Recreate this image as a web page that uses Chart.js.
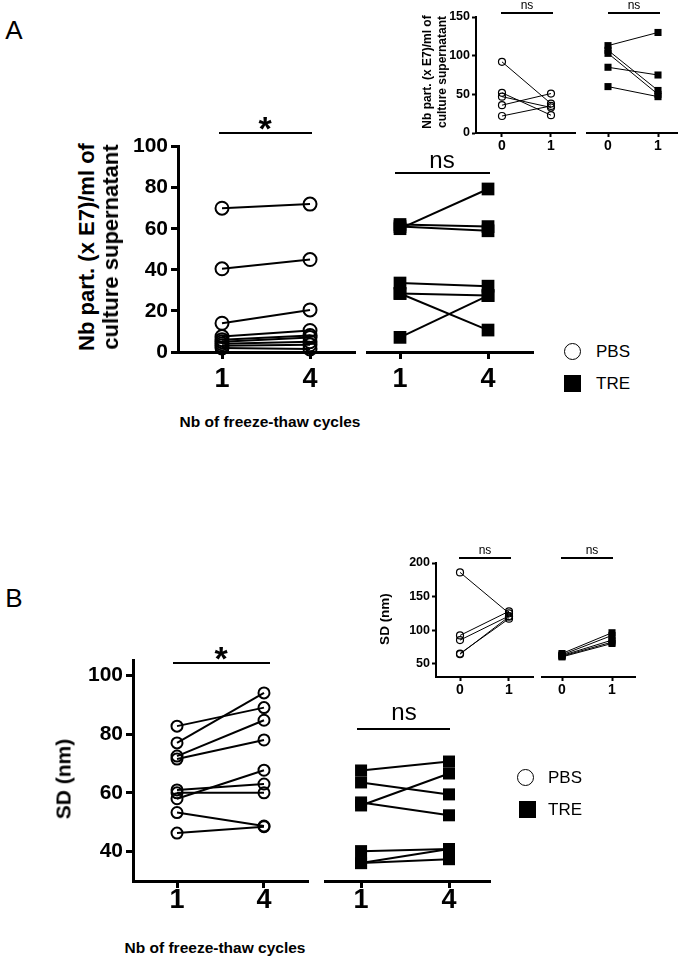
<!DOCTYPE html>
<html><head><meta charset="utf-8">
<script src="https://cdn.jsdelivr.net/npm/chart.js@4.4.1/dist/chart.umd.min.js"></script>
<style>
body{margin:0;background:#fff;}
#page{position:relative;width:685px;height:962px;overflow:hidden;font-family:"Liberation Sans",Arial,sans-serif;color:#000;}
#page canvas{position:absolute;}
.t{position:absolute;white-space:nowrap;line-height:1;}
.bar{position:absolute;background:#000;}
</style></head><body><div id="page"></div>
<script>
const F = '"Liberation Sans", Arial, sans-serif';
const cycles = ['1', '4'];
const insetCycles = ['0', '1'];

// panel A: particle counts
const aTicks = [0, 20, 40, 60, 80, 100];
const aPbs1 = [70, 40.5, 14, 7.5, 6, 5, 4, 3, 2];
const aPbs4 = [72, 45, 20.5, 10.5, 8, 7, 5, 3.5, 1.5];
const aTre1 = [59, 61, 60, 33, 28, 28, 7];
const aTre4 = [78, 60, 58, 31.5, 27, 10.5, 27];
const aInsetTicks = [0, 50, 100, 150];
const aInsPbs0 = [92, 52, 47, 36, 22];
const aInsPbs1 = [38, 23, 33, 51, 35];
const aInsTre0 = [113, 107, 103, 85, 60];
const aInsTre1 = [130, 55, 50, 75, 47];

// panel B: SD
const bTicks = [40, 60, 80, 100];
const bPbs1 = [82.7, 77, 72.5, 71.5, 61, 60, 58, 53.3, 46.3];
const bPbs4 = [89, 94, 84.7, 78, 63, 60, 67.7, 48.7, 48.5];
const bTre1 = [67, 63, 56.3, 55.3, 40, 36, 36];
const bTre4 = [70, 59, 52, 66, 40.7, 40.7, 37.3];
const bInsetTicks = [50, 100, 150, 200];
const bInsPbs0 = [186, 92, 85, 65, 64];
const bInsPbs1 = [125, 128, 121, 117, 120];
const bInsTre0 = [65, 63, 62, 60, 61];
const bInsTre1 = [96, 92, 85, 80, 82];

const page = document.getElementById('page');

const mainA = {line: 2, circle: 6.5, ring: 2, rect: 9, axis: 3, tick: 7, tickW: 3, xFont: 27, yFont: 21, xPad: 4, yPad: 3, yW: 60, xH: 45};
const mainB = {line: 2, circle: 5.5, ring: 2, rect: 8.5, axis: 3, tick: 7, tickW: 3, xFont: 27, yFont: 21, xPad: -4, yPad: 3, yW: 60, xH: 45};
const inset = {line: 1, circle: 3.5, ring: 1.2, rect: 5, axis: 2, tick: 4, tickW: 2, xFont: 14, yFont: 12.5, xPad: 1, yPad: 2, yW: 40, xH: 25};

function subplot(o) {
  const st = o.style;
  const yW = o.showY ? st.yW : 0;
  const padL = o.showY ? 0 : 12;
  const padT = 12, padR = 12, xH = st.xH;
  const w = (o.x1 - o.x0) + yW + padL + padR;
  const h = (o.y1 - o.y0) + padT + xH;
  const cv = document.createElement('canvas');
  cv.width = w; cv.height = h;
  cv.style.left = (o.x0 - yW - padL) + 'px';
  cv.style.top = (o.y0 - padT) + 'px';
  cv.style.width = w + 'px'; cv.style.height = h + 'px';
  page.appendChild(cv);
  const isRect = o.marker === 'rect';
  const datasets = o.first.map((v, i) => ({
    data: [{x: 0, y: v}, {x: 1, y: o.second[i]}],
    showLine: true,
    borderColor: '#000',
    borderWidth: st.line,
    pointStyle: o.marker,
    pointRadius: isRect ? st.rect : st.circle,
    pointBorderWidth: isRect ? 0 : st.ring,
    pointBorderColor: '#000',
    pointBackgroundColor: isRect ? '#000' : 'rgba(0,0,0,0)',
    clip: false
  }));
  const grid = {drawOnChartArea: false, drawTicks: true, tickLength: st.tick, tickWidth: st.tickW, tickColor: '#000'};
  const border = {display: true, color: '#000', width: st.axis};
  new Chart(cv, {
    type: 'scatter',
    data: {datasets},
    options: {
      responsive: false, animation: false, devicePixelRatio: 1,
      layout: {padding: {left: padL, top: padT, right: padR, bottom: 0}},
      plugins: {legend: {display: false}, tooltip: {enabled: false}},
      scales: {
        x: {
          type: 'linear', min: o.xmin, max: o.xmax,
          afterBuildTicks: s => { s.ticks = [{value: 0}, {value: 1}]; },
          afterFit: s => { s.height = xH; },
          grid, border,
          ticks: {color: '#000', padding: st.xPad, maxRotation: 0, autoSkip: false,
            font: {family: F, size: st.xFont, weight: 'bold'}, callback: v => o.labels[v]}
        },
        y: {
          display: o.showY, min: o.ymin, max: o.ymax,
          afterBuildTicks: s => { s.ticks = o.yTicks.map(v => ({value: v})); },
          afterFit: s => { s.width = yW; },
          grid, border,
          ticks: {color: '#000', padding: st.yPad, font: {family: F, size: st.yFont, weight: 'bold'}}
        }
      }
    }
  });
}

// panel A
subplot({style: mainA, showY: true, x0: 178, x1: 355, y0: 143, y1: 352, xmin: -0.5, xmax: 1.511, ymin: 0, ymax: 100,
  yTicks: aTicks, labels: cycles, first: aPbs1, second: aPbs4, marker: 'circle'});
subplot({style: mainA, showY: false, x0: 367, x1: 533, y0: 143, y1: 352, xmin: -0.375, xmax: 1.511, ymin: 0, ymax: 100,
  yTicks: aTicks, labels: cycles, first: aTre1, second: aTre4, marker: 'rect'});
subplot({style: inset, showY: true, x0: 476, x1: 575, y0: 17, y1: 133, xmin: -0.53, xmax: 1.49, ymin: 0, ymax: 150,
  yTicks: aInsetTicks, labels: insetCycles, first: aInsPbs0, second: aInsPbs1, marker: 'circle'});
subplot({style: inset, showY: false, x0: 587, x1: 677, y0: 17, y1: 133, xmin: -0.42, xmax: 1.38, ymin: 0, ymax: 150,
  yTicks: aInsetTicks, labels: insetCycles, first: aInsTre0, second: aInsTre1, marker: 'rect'});

// panel B
subplot({style: mainB, showY: true, x0: 133, x1: 308, y0: 657, y1: 881, xmin: -0.506, xmax: 1.506, ymin: 30, ymax: 105,
  yTicks: bTicks, labels: cycles, first: bPbs1, second: bPbs4, marker: 'circle'});
subplot({style: mainB, showY: false, x0: 325, x1: 490, y0: 657, y1: 881, xmin: -0.41, xmax: 1.466, ymin: 30, ymax: 105,
  yTicks: bTicks, labels: cycles, first: bTre1, second: bTre4, marker: 'rect'});
subplot({style: inset, showY: true, x0: 436, x1: 533, y0: 563, y1: 677, xmin: -0.49, xmax: 1.49, ymin: 30, ymax: 200,
  yTicks: bInsetTicks, labels: insetCycles, first: bInsPbs0, second: bInsPbs1, marker: 'circle'});
subplot({style: inset, showY: false, x0: 542, x1: 635, y0: 563, y1: 677, xmin: -0.4, xmax: 1.46, ymin: 30, ymax: 200,
  yTicks: bInsetTicks, labels: insetCycles, first: bInsTre0, second: bInsTre1, marker: 'rect'});

// annotations
function txt(s, x, y, size, bold, mode) {
  const d = document.createElement('div');
  d.className = 't';
  d.textContent = s;
  d.style.left = x + 'px'; d.style.top = y + 'px';
  d.style.fontSize = size + 'px';
  if (bold) d.style.fontWeight = 'bold';
  if (mode === 'rot') d.style.transform = 'translate(-50%,-50%) rotate(-90deg)';
  else if (mode === 'left') d.style.transform = 'translate(0,-50%)';
  else d.style.transform = 'translate(-50%,-50%)';
  page.appendChild(d);
}
function bar(x0, x1, y, th) {
  const d = document.createElement('div');
  d.className = 'bar';
  d.style.left = x0 + 'px'; d.style.width = (x1 - x0) + 'px';
  d.style.top = (y - th / 2) + 'px'; d.style.height = th + 'px';
  page.appendChild(d);
}
function marker(kind, x, y, s) {
  const d = document.createElement('div');
  d.style.position = 'absolute';
  d.style.boxSizing = 'border-box';
  d.style.left = (x - s / 2) + 'px'; d.style.top = (y - s / 2) + 'px';
  d.style.width = s + 'px'; d.style.height = s + 'px';
  if (kind === 'circle') { d.style.border = '1.3px solid #000'; d.style.borderRadius = '50%'; }
  else d.style.background = '#000';
  page.appendChild(d);
}

// A
txt('A', 14, 30, 26, false);
txt('Nb part. (x E7)/ml of', 87, 247, 22, true, 'rot');
txt('culture supernatant', 111, 247, 22, true, 'rot');
txt('*', 265, 128, 34, true);
bar(219, 312, 133, 2.5);
txt('ns', 442, 160, 24, false);
bar(395, 490, 173, 2.5);
txt('Nb of freeze-thaw cycles', 270, 422, 15.5, true);
marker('circle', 572, 351, 17);
txt('PBS', 596, 351, 17, false, 'left');
marker('rect', 572, 383, 17);
txt('TRE', 596, 383, 17, false, 'left');
txt('Nb part. (x E7)/ml of', 427, 72, 12, true, 'rot');
txt('culture supernatant', 442, 72, 12, true, 'rot');
txt('ns', 527, 5, 12, false);
bar(501, 553, 13, 1.5);
txt('ns', 634, 5, 12, false);
bar(608, 660, 13, 1.5);

// B
txt('B', 14, 598, 26, false);
txt('SD (nm)', 63, 779, 21, true, 'rot');
txt('*', 221, 658, 34, true);
bar(173, 270, 663, 2.5);
txt('ns', 404, 712, 24, false);
bar(357, 450, 729, 2.5);
txt('Nb of freeze-thaw cycles', 215, 948, 15.5, true);
marker('circle', 525, 777, 17);
txt('PBS', 548, 777, 17, false, 'left');
marker('rect', 527, 809, 17);
txt('TRE', 548, 809, 17, false, 'left');
txt('SD (nm)', 385, 619, 13.5, true, 'rot');
txt('ns', 485, 550, 12, false);
bar(459, 511, 558, 1.5);
txt('ns', 592, 550, 12, false);
bar(561, 613, 558, 1.5);
</script>
</body></html>
